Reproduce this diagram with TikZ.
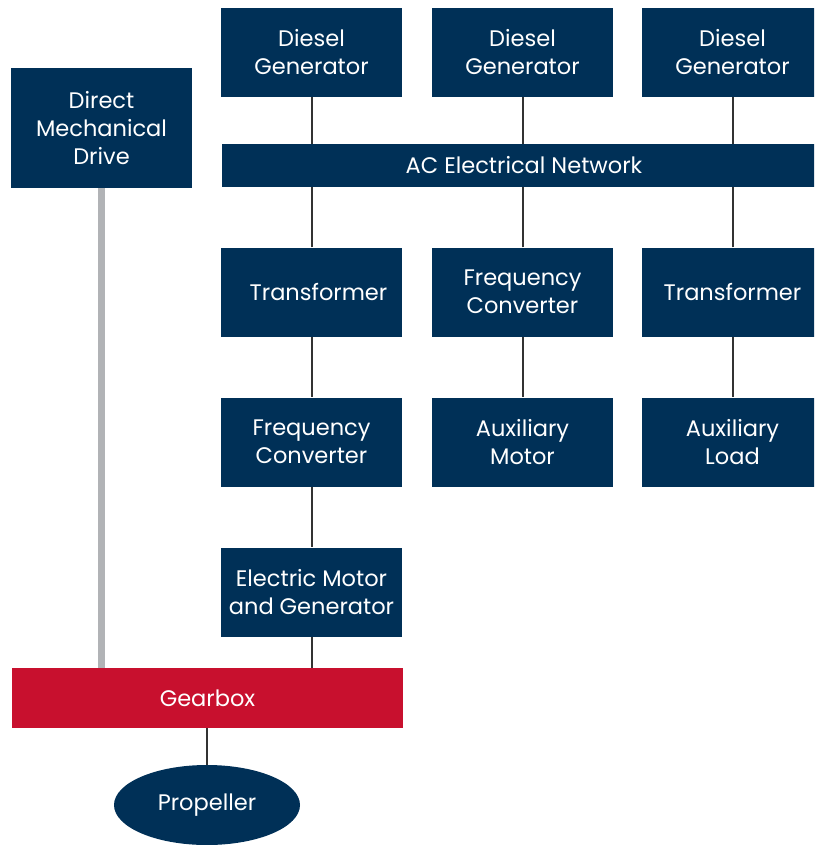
\documentclass[tikz,border=0pt]{standalone}
\usepackage{fontspec}
\setmainfont{Poppins}
\usetikzlibrary{shapes.geometric}
\definecolor{navy}{HTML}{003057}
\definecolor{gbred}{HTML}{C8102E}
\definecolor{lnk}{HTML}{333333}
\definecolor{mech}{HTML}{B1B3B6}
\newcommand{\lblfont}{\fontsize{22.5}{28}\selectfont}
\begin{document}
\begin{tikzpicture}[x=1pt,y=-1pt,
  blk/.style={fill=navy,text=white,minimum width=181pt,minimum height=89pt,inner sep=0pt,align=center,font=\lblfont},
  lnkline/.style={draw=lnk,line width=2pt},
  mechline/.style={draw=mech,line width=7pt}]
\useasboundingbox (0,0) rectangle (814,845);
\begin{scope}
\clip (0,0) rectangle (814,845);
\node[blk] (dg1) at (311.5,52.5) {Diesel\\Generator};
\node[blk] (dg2) at (522.5,52.5) {Diesel\\Generator};
\node[blk] (dg3) at (732.5,52.5) {Diesel\\Generator};
\node[blk,minimum height=120pt] (dmd) at (101.5,128) {Direct\\Mechanical\\Drive};
\node[blk,minimum width=601pt,minimum height=43pt,anchor=west] (ac) at (222,165.5) {};
\node[text=white,font=\lblfont] at (524,165.5) {AC Electrical Network};
\node[blk] (tr1) at (311.5,292) {\hspace*{14pt}Transformer};
\node[blk] (fc2) at (522.5,292) {Frequency\\Converter};
\node[blk] (tr3) at (732.5,292) {Transformer};
\node[blk] (fc1) at (311.5,442) {Frequency\\Converter};
\node[blk] (am) at (522.5,442) {Auxiliary\\Motor};
\node[blk] (al) at (732.5,442) {Auxiliary\\Load};
\node[blk] (emg) at (311.5,592) {Electric Motor\\and Generator};
\node[blk,fill=gbred,minimum width=391pt,minimum height=60pt] (gb) at (207.5,698) {Gearbox};
\node[ellipse,fill=navy,text=white,minimum width=186pt,minimum height=80pt,inner sep=0pt,font=\lblfont] (pr) at (207,805) {Propeller};
\draw[lnkline] (dg1.south) -- (dg1.south |- ac.north);
\draw[lnkline] (dg2.south) -- (dg2.south |- ac.north);
\draw[lnkline] (dg3.south) -- (dg3.south |- ac.north);
\draw[lnkline] (tr1.north) -- (tr1.north |- ac.south);
\draw[lnkline] (fc2.north) -- (fc2.north |- ac.south);
\draw[lnkline] (tr3.north) -- (tr3.north |- ac.south);
\draw[lnkline] (tr1) -- (fc1);
\draw[lnkline] (fc2) -- (am);
\draw[lnkline] (tr3) -- (al);
\draw[lnkline] (fc1) -- (emg);
\draw[lnkline] (emg.south) -- (emg.south |- gb.north);
\draw[mechline] (dmd.south) -- (dmd.south |- gb.north);
\draw[lnkline] (gb.south -| pr.north) -- (pr.north);
\end{scope}
\end{tikzpicture}
\end{document}
